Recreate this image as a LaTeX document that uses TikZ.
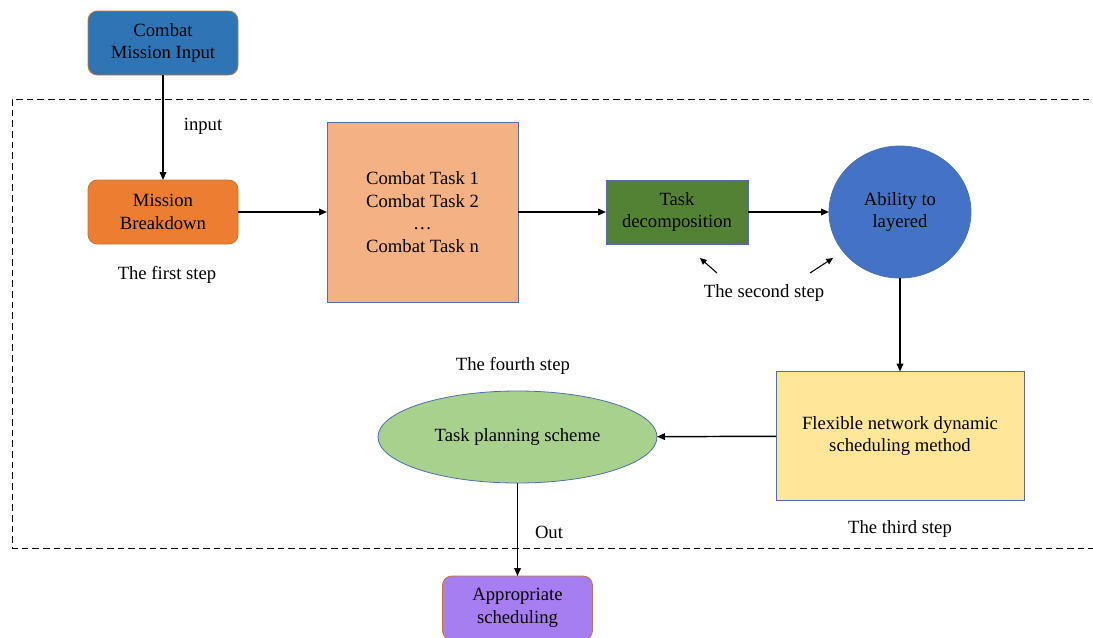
\documentclass[tikz,border=0pt]{standalone}
\usepackage{fontspec}
\setmainfont{Liberation Serif}
\usetikzlibrary{arrows.meta,shapes.geometric}
\definecolor{inblue}{HTML}{2E75B6}
\definecolor{brkorange}{HTML}{ED7D31}
\definecolor{tasksalmon}{HTML}{F4B183}
\definecolor{decgreen}{HTML}{548235}
\definecolor{layblue}{HTML}{4472C4}
\definecolor{flexyellow}{HTML}{FFE699}
\definecolor{plangreen}{HTML}{A9D18E}
\definecolor{outpurple}{HTML}{A77DF2}
\definecolor{edgeorange}{HTML}{C0763A}
\definecolor{edgeblue}{HTML}{4F6FB0}
\begin{document}
\begin{tikzpicture}[x=0.75pt,y=-0.75pt,
  font=\fontsize{14}{17}\selectfont,
  every node/.style={inner sep=0pt,outer sep=0pt,align=center},
  conn/.style={line width=1.1pt,-{Triangle[length=6pt,width=5pt]}},
  pointer/.style={line width=0.8pt,-{Triangle[length=5pt,width=4.5pt]}},
  rbox/.style={rounded corners=7pt,draw=edgeorange,line width=0.6pt,
    minimum width=112.5pt,minimum height=48pt},
  sbox/.style={draw=edgeblue,line width=0.6pt},
  caption/.style={font=\fontsize{14}{17}\selectfont}
]
\useasboundingbox (0,0) rectangle (1093,637);
\clip (0,0) rectangle (1093,637);

% dashed frame around the processing stages
\draw[line width=0.75pt,dash pattern=on 5pt off 3pt]
  (1100,99) -- (12,99) -- (12,548) -- (1100,548);

% blocks
\node[rbox,fill=inblue] (input) at (163,43) {Combat\\Mission Input};
\node[rbox,fill=brkorange] (brk) at (163,212) {Mission\\Breakdown};
\node[sbox,fill=tasksalmon,minimum width=143.25pt,minimum height=135pt]
  (tasks) at (422.5,212) {Combat Task 1\\Combat Task 2\\\dots\\Combat Task n};
\node[sbox,fill=decgreen,minimum width=106.5pt,minimum height=48pt]
  (dec) at (677,212) {Task\\decomposition};
\node[ellipse,sbox,fill=layblue,minimum width=106.5pt,minimum height=99pt]
  (layer) at (900,212) {Ability to\\layered};
\node[sbox,fill=flexyellow,minimum width=186pt,minimum height=96.75pt]
  (flex) at (900,436) {Flexible network dynamic\\scheduling method};
\node[ellipse,sbox,fill=plangreen,minimum width=209.25pt,minimum height=69pt]
  (plan) at (517.5,437) {Task planning scheme};
\node[rbox,fill=outpurple] (out) at (517.5,608) {Appropriate\\scheduling};

% captions
\node[caption] (lblin) at (203,126) {input};
\node[caption] (step1) at (167,275) {The first step};
\node[caption] (step2) at (764,293) {The second step};
\node[caption] (step3) at (900,529) {The third step};
\node[caption] (step4) at (513,366) {The fourth step};
\node[caption] (lblout) at (549,532) {Out};

% flow
\draw[conn] (input) -- (brk);
\draw[conn] (brk) -- (tasks);
\draw[conn] (tasks) -- (dec);
\draw[conn] (dec) -- (layer);
\draw[conn] (layer) -- (flex);
\draw[conn] (flex) -- (plan);
\draw[conn] (plan.south) -- (out.north);

% pointers from the second-step caption
\coordinate (p1a) at (717,273);
\coordinate (p1b) at (700,258);
\coordinate (p2a) at (810,273);
\coordinate (p2b) at (833,258);
\draw[pointer] (p1a) -- (p1b);
\draw[pointer] (p2a) -- (p2b);
\end{tikzpicture}
\end{document}
